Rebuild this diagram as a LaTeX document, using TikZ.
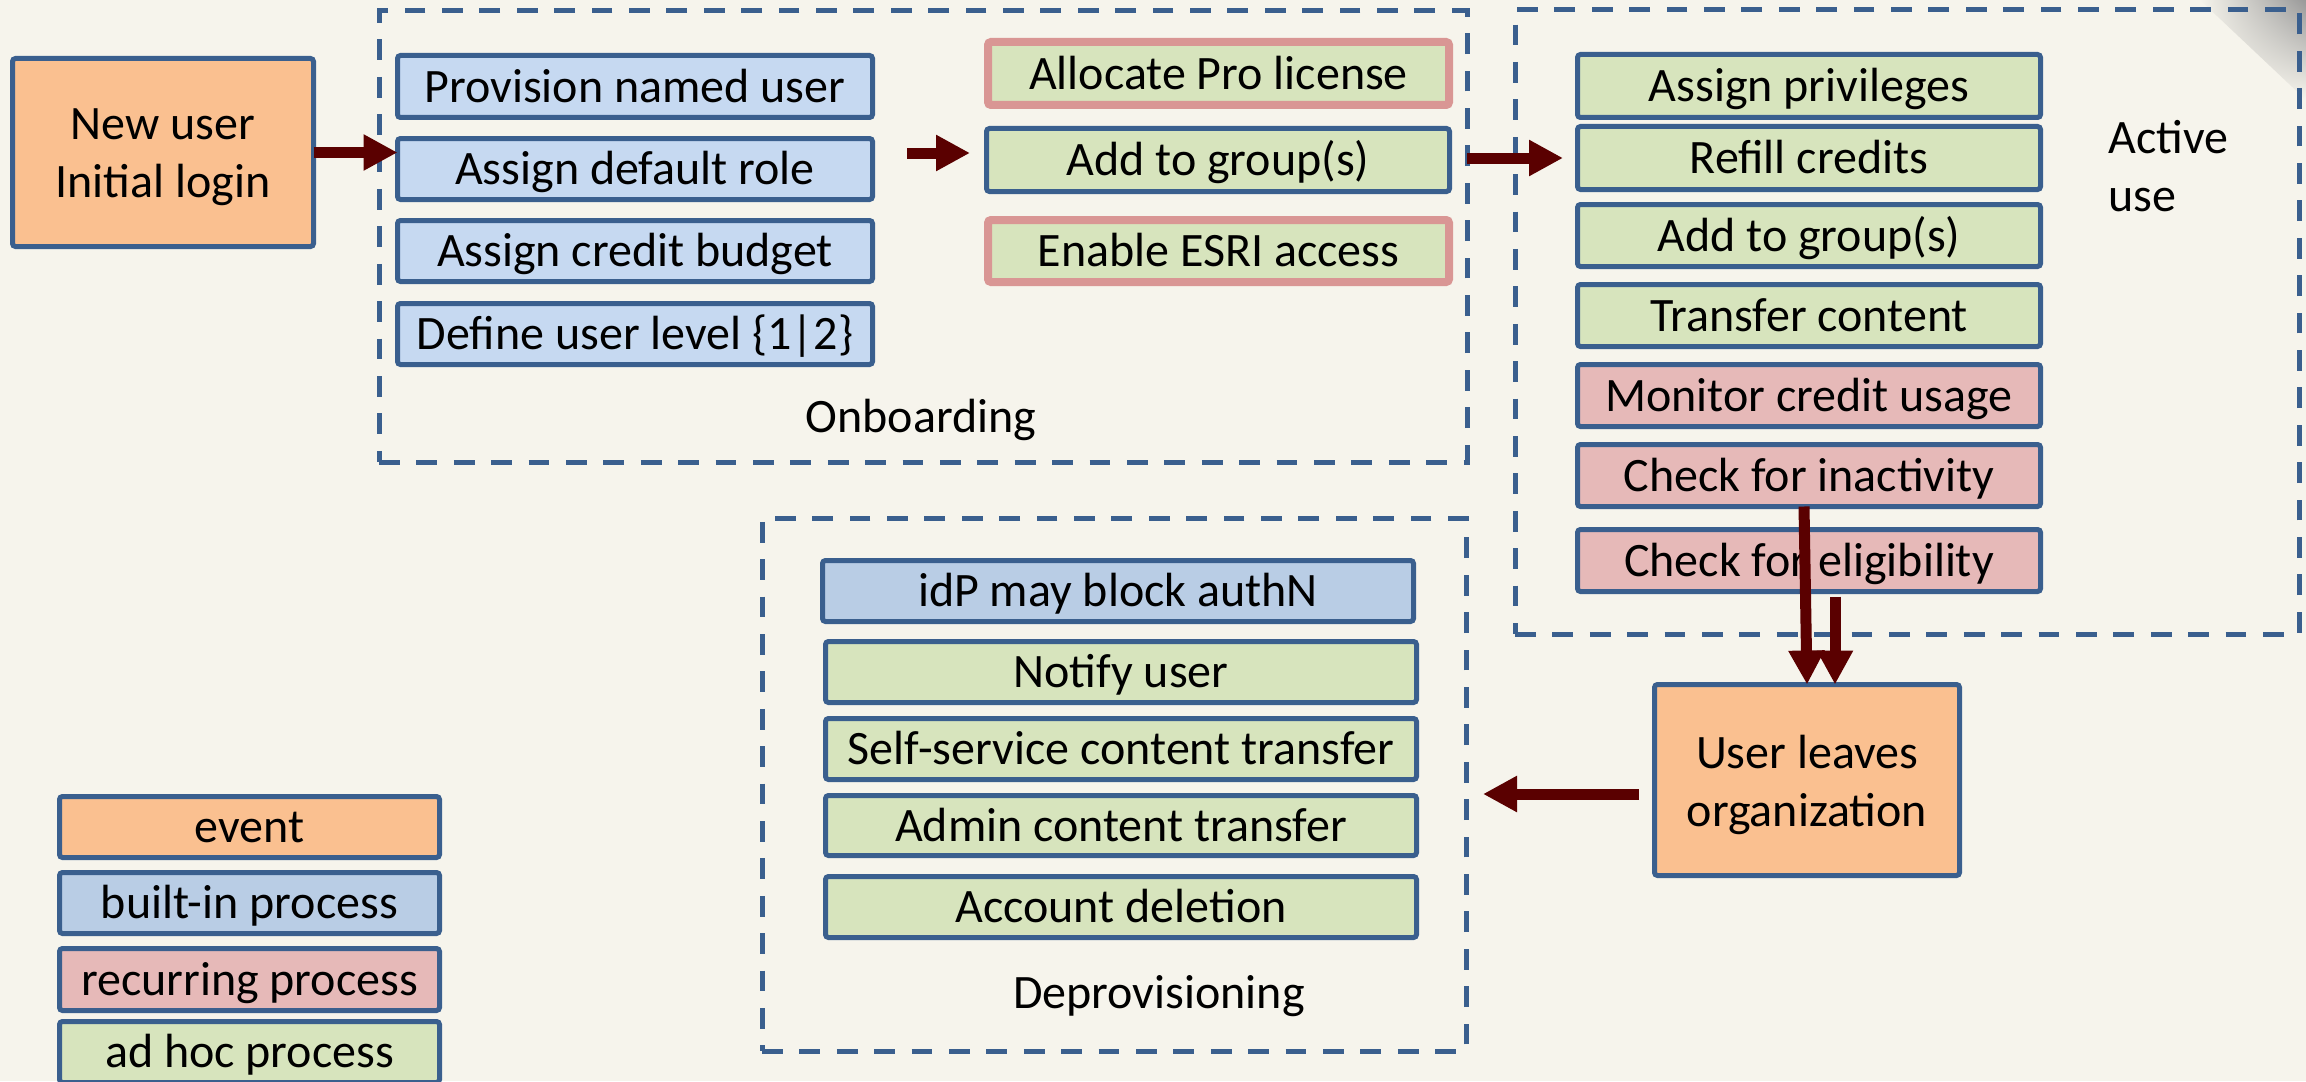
\documentclass[tikz,border=0pt]{standalone}
\usepackage{fontspec}
\setmainfont{Carlito}
\usetikzlibrary{arrows.meta,shadings}
\definecolor{bgc}{HTML}{F6F4EC}
\definecolor{bblue}{HTML}{3A5F8E}
\definecolor{lblue}{HTML}{C6D9F1}
\definecolor{mblue}{HTML}{B9CDE5}
\definecolor{lgreen}{HTML}{D7E4BD}
\definecolor{lpink}{HTML}{E6B9B8}
\definecolor{dpink}{HTML}{D99694}
\definecolor{lorange}{HTML}{FAC090}
\definecolor{ared}{HTML}{5A0000}
\newcommand\pbox[8]{\node[#2, minimum width={(#5-#3-#7)*0.5pt}, minimum height={(#6-#4-#7)*0.5pt}] (#1) at ({(#3+#5)/2},{(#4+#6)/2}) {#8};}
\tikzset{
  txt/.style={font=\fontsize{24}{29}\selectfont, text=black},
  pbase/.style={txt, draw=bblue, line width=2.5pt, rounded corners=1.5pt, inner sep=0pt, outer sep=0pt, align=center, text height=19.6pt, text depth=4pt},
  multi/.style={text height={}, text depth={}},
  bluebox/.style={pbase, fill=lblue},
  ibluebox/.style={pbase, fill=mblue},
  greenbox/.style={pbase, fill=lgreen},
  pinkbox/.style={pbase, fill=lpink},
  orangebox/.style={pbase, fill=lorange},
  gpbox/.style={pbase, fill=lgreen, draw=dpink, line width=4pt},
  group/.style={draw=bblue, line width=2.5pt, dash pattern=on 10.4pt off 8.3pt, inner sep=0pt, outer sep=0pt},
  lbl/.style={txt, inner sep=0pt},
  arr/.style={draw=ared, line width=5.5pt, -{Triangle[length=17pt,width=17pt]}}
}
\begin{document}
\begin{tikzpicture}[x=0.5pt,y=-0.5pt]
\clip (0,0) rectangle (2306,1081);
\fill[bgc] (0,0) rectangle (2306,1081);
% page curl shadow
\begin{scope}
\clip (2200,0) -- (2306,0) -- (2306,100) -- cycle;
\shade[upper left=bgc, upper right=black!40, lower left=bgc, lower right=bgc] (2200,0) rectangle (2306,100);
\end{scope}
% groups
\pbox{onboard}{group}{379}{11}{1467}{462}{0}{}
\pbox{active}{group}{1515}{10}{2299}{634}{0}{}
\pbox{deprov}{group}{762}{518}{1466}{1051}{0}{}
\node[lbl, anchor=base] (onlbl) at (921,432) {Onboarding};
\node[lbl, align=left, anchor=north west] (actlbl) at (2108,113) {\rule{0pt}{20pt}Active\\use};
\node[lbl, anchor=base] (deplbl) at (1159,1008) {Deprovisioning};
% events
\pbox{newuser}{orangebox, multi}{10}{56}{316}{249}{5}{\rule{0pt}{20pt}New user\\Initial login}
\pbox{leaves}{orangebox, multi}{1652}{682}{1962}{878}{5}{\rule{0pt}{22pt}User leaves\\organization}
% onboarding
\pbox{prov}{bluebox}{395}{53}{875}{120}{5}{Provision named user}
\pbox{role}{bluebox}{395}{136}{875}{202}{5}{Assign default role}
\pbox{budget}{bluebox}{395}{218}{875}{284}{5}{Assign credit budget}
\pbox{level}{bluebox}{395}{301}{875}{367}{5}{Define user level \{1|2\}}
\pbox{alloc}{gpbox}{984}{38}{1453}{109}{8}{Allocate Pro license}
\pbox{addgrpa}{greenbox}{984}{126}{1452}{194}{5}{Add to group(s)}
\pbox{esri}{gpbox}{984}{216}{1453}{286}{8}{Enable ESRI access}
% active use
\pbox{priv}{greenbox}{1575}{52}{2043}{120}{5}{Assign privileges}
\pbox{refill}{greenbox}{1575}{124}{2043}{192}{5}{Refill credits}
\pbox{addgrpb}{greenbox}{1575}{202}{2043}{269}{5}{Add to group(s)}
\pbox{transfer}{greenbox}{1575}{282}{2043}{349}{5}{Transfer content}
\pbox{monitor}{pinkbox}{1575}{362}{2043}{429}{5}{Monitor credit usage}
\pbox{inact}{pinkbox}{1575}{442}{2043}{509}{5}{Check for inactivity}
\pbox{elig}{pinkbox}{1575}{527}{2043}{594}{5}{Check for eligibility}
% deprovisioning
\pbox{idp}{ibluebox}{820}{558}{1416}{624}{5}{idP may block authN}
\pbox{notify}{greenbox}{823}{639}{1419}{705}{5}{Notify user}
\pbox{self}{greenbox}{823}{716}{1419}{782}{5}{Self-service content transfer}
\pbox{admin}{greenbox}{823}{793}{1419}{858}{5}{Admin content transfer}
\pbox{acct}{greenbox}{823}{874}{1419}{940}{5}{Account deletion}
% legend
\pbox{event}{orangebox}{57}{794}{442}{860}{5}{event}
\pbox{builtin}{ibluebox}{57}{870}{442}{936}{5}{built-in process}
\pbox{recurring}{pinkbox}{57}{946}{442}{1013}{5}{recurring process}
\pbox{adhoc}{greenbox}{57}{1019}{442}{1085}{5}{ad hoc process}
% arrows
\coordinate (a2s) at (907,153);
\coordinate (xa) at (1804,0);
\coordinate (xb) at (1807,0);
\coordinate (xc) at (1835,0);
\draw[arr] (newuser.east) -- (newuser.east -| role.west);
\draw[arr, shorten >=8.25pt] (a2s) -- (a2s -| addgrpa.west);
\draw[arr, shorten >=7.25pt] (onboard.east |- refill.west) -- (refill.west);
\draw[arr] (inact.south -| xa) -- (leaves.north -| xb);
\draw[arr, shorten <=2.5pt] (elig.south -| xc) -- (leaves.north -| xc);
\draw[arr, shorten <=7.75pt, shorten >=8.5pt] ([yshift=-7pt]leaves.west) -- ([yshift=-7pt]leaves.west -| deprov.east);
\end{tikzpicture}
\end{document}
